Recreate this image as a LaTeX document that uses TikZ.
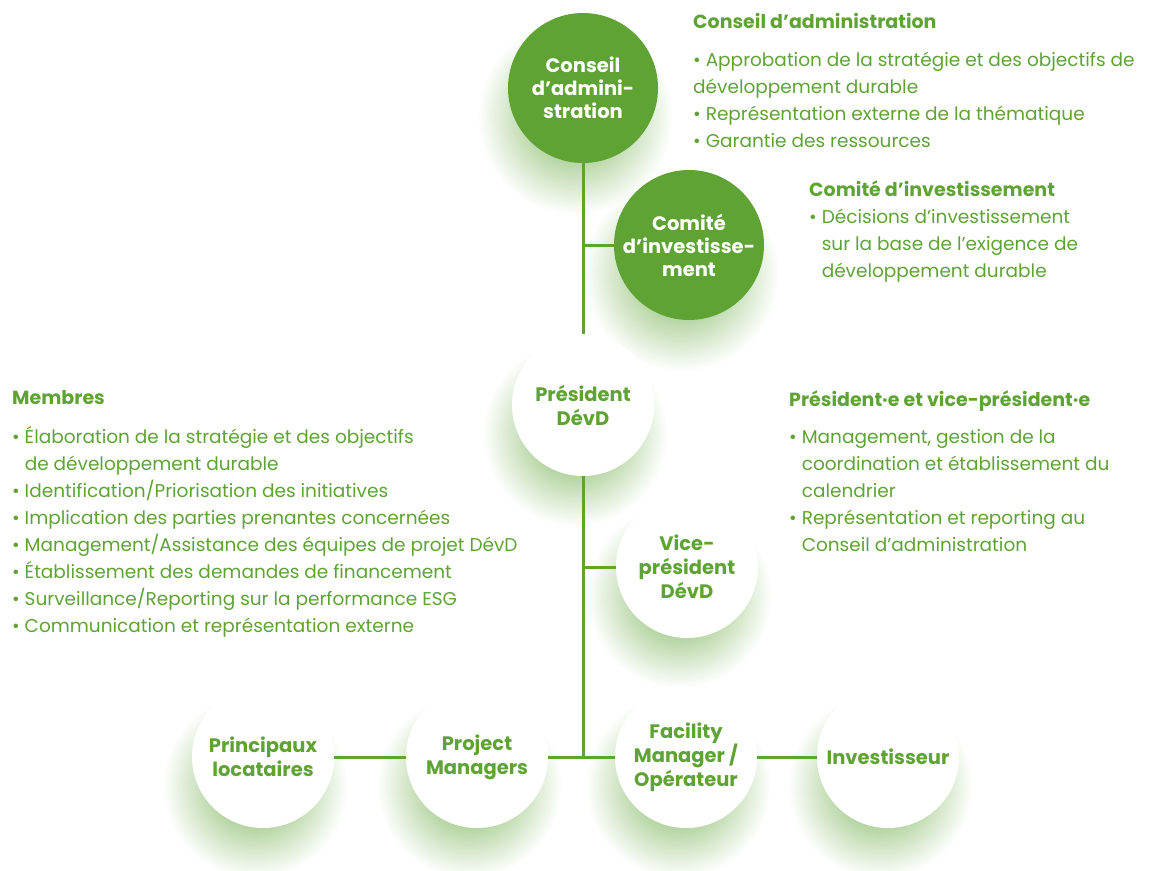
\documentclass[tikz,border=0pt]{standalone}
\usepackage{fontspec}
\setmainfont{Poppins}
\usetikzlibrary{positioning,shadows,fadings}
\definecolor{devdGreen}{RGB}{94,163,52}
\pgfdeclareradialshading{glowShading}{\pgfpointorigin}{color(0bp)=(white); color(10bp)=(white); color(25bp)=(black); color(50bp)=(black)}
\pgfdeclarefading{glowFading}{\pgfuseshading{glowShading}}
\tikzstyle{plan} = [x = 1pt, y = -1pt]
\tikzstyle{glowShadow} = [circular drop shadow={shadow xshift=-6pt, shadow yshift=-22pt, shadow scale=1.3, fill=devdGreen, opacity=.5, path fading=glowFading}]
\tikzstyle{roleCircle} = [circle, inner sep=0, align=center, minimum size=142pt, font=\bfseries\fontsize{19.5}{24}\selectfont, glowShadow]
\tikzstyle{boardCircle} = [roleCircle, fill=devdGreen, text=white, minimum size=150pt, font=\bfseries\fontsize{19.5}{23}\selectfont]
\tikzstyle{staffCircle} = [roleCircle, fill=white, text=devdGreen]
\tikzstyle{branchLine} = [draw=devdGreen, line width=3pt]
\tikzstyle{dutyText} = [anchor=north west, inner sep=0, align=left, text=devdGreen, font=\fontsize{18.5}{27}\selectfont]
\newcommand{\bul}{\textbullet\ }
\newcommand{\ind}{\hphantom{\bul}}
\newcommand{\head}[1]{{\bfseries\fontsize{19}{27}\selectfont #1}}

\begin{document}
\begin{tikzpicture}[plan]
  \useasboundingbox (0,0) rectangle (1151,870);

  % circles
  \node[boardCircle] (cons) at (583,88) {Conseil\\d’admini-\\stration};
  \node[boardCircle] (comite) at (689,245) {Comité\\d’investisse-\\ment};
  \node[staffCircle] (pres) at (583,405) {Président\\DévD};
  \node[staffCircle] (vice) at (687,567) {Vice-\\président\\DévD};
  \node[staffCircle] (princ) at (263,757) {Principaux\\locataires};
  \node[staffCircle] (proj) at (477,757) {Project\\Managers};
  \node[staffCircle] (fac) at (686,757) {Facility\\Manager /\\Opérateur};
  \node[staffCircle] (inv) at (888,757) {Investisseur};

  % lines
  \coordinate (comiteJoin) at (cons.south |- comite.west);
  \coordinate (viceJoin) at (pres.south |- vice.west);
  \coordinate (baseJoin) at (pres.south |- proj.east);
  \draw[branchLine] (cons) -- (pres);
  \draw[branchLine] (comiteJoin) -- (comite);
  \draw[branchLine] (viceJoin) -- (vice);
  \draw[branchLine] (pres) -- (baseJoin);
  \draw[branchLine] (princ) -- (proj);
  \draw[branchLine] (proj) -- (fac);
  \draw[branchLine] (fac) -- (inv);

  % texts
  \node[dutyText] (consText) at (693,13) {\head{Conseil d’administration}\\[11pt]
    \bul Approbation de la stratégie et des objectifs de\\
    développement durable\\
    \bul Représentation externe de la thématique\\
    \bul Garantie des ressources};
  \node[dutyText] (comiteText) at (809,180) {\head{Comité d’investissement}\\
    \bul Décisions d’investissement\\
    \ind sur la base de l’exigence de\\
    \ind développement durable};
  \node[dutyText] (membresText) at (12,390) {\head{Membres}\\[12pt]
    \bul Élaboration de la stratégie et des objectifs\\
    \ind de développement durable\\
    \bul Identification/Priorisation des initiatives\\
    \bul Implication des parties prenantes concernées\\
    \bul Management/Assistance des équipes de projet DévD\\
    \bul Établissement des demandes de financement\\
    \bul Surveillance/Reporting sur la performance ESG\\
    \bul Communication et représentation externe};
  \node[dutyText] (presText) at (789,390) {\head{Président·e et vice-président·e}\\[10pt]
    \bul Management, gestion de la\\
    \ind coordination et établissement du\\
    \ind calendrier\\
    \bul Représentation et reporting au\\
    \ind Conseil d’administration};
\end{tikzpicture}
\end{document}
